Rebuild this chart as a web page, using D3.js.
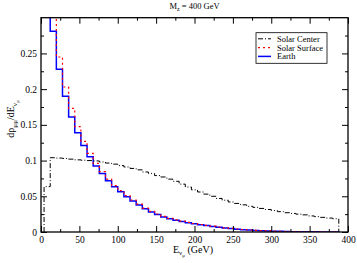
<!DOCTYPE html>
<html><head><meta charset="utf-8">
<script src="https://cdn.jsdelivr.net/npm/d3@7"></script>
<style>
body{margin:0;background:#fff;}
svg{display:block;font-family:"Liberation Serif","DejaVu Serif",serif;}
</style></head>
<body><svg id="c" width="357" height="263"></svg>
<script>
// ---- data ----
const binStart = d3.range(4, 388, 8); // lower edges of 8 GeV bins, last upper edge 388
const binWidth = 8;
const solarCenter = [0.0635,0.104,0.1035,0.103,0.102,0.101,0.1005,0.100,0.0995,0.098,0.0965,0.095,0.093,0.091,0.089,0.087,0.084,0.082,0.079,0.077,0.074,0.071,0.067,0.063,0.059,0.056,0.053,0.050,0.047,0.0445,0.042,0.040,0.038,0.036,0.0345,0.033,0.0315,0.030,0.0285,0.027,0.026,0.025,0.024,0.0225,0.0215,0.0205,0.0195,0.0185];
const solarSurface = [0.40,0.31,0.245,0.203,0.173,0.1475,0.127,0.110,0.096,0.0845,0.074,0.065,0.058,0.051,0.0448,0.039,0.0335,0.029,0.0252,0.0218,0.0192,0.0171,0.0153,0.0135,0.0119,0.0105,0.0093,0.0081,0.007,0.0059,0.005,0.0042,0.0035,0.0028,0.0023,0.0019,0.0015,0.0012,0.0009,0.0007,0.0006,0.0004,0.0003,0.0002,0.0002,0.0001,0.0001,0.0001];
const earth = [0.36,0.281,0.228,0.190,0.161,0.139,0.121,0.1055,0.0924,0.082,0.0719,0.0635,0.0565,0.0495,0.0434,0.0378,0.0325,0.028,0.0245,0.021,0.0185,0.0165,0.0148,0.013,0.0115,0.0102,0.009,0.0078,0.0067,0.0057,0.0048,0.004,0.0033,0.0027,0.0022,0.0018,0.0014,0.0011,0.0009,0.0007,0.0005,0.0004,0.0003,0.0002,0.0002,0.0001,0.0001,0.0001];
const xMajor = [0,50,100,150,200,250,300,350,400];
const xMinor = [25,75,125,175,225,275,325,375];
const yMajor = [0,0.05,0.1,0.15,0.2,0.25];
const yMajorLabels = ["0","0.05","0.1","0.15","0.2","0.25"];
const yMinor = [0.025,0.075,0.125,0.175,0.225,0.275];
const seriesNames = ["Solar Center","Solar Surface","Earth"];

// ---- layout ----
const svg = d3.select("#c");
const L=41, R=348, T=17.7, B=232;
const x = d3.scaleLinear().domain([0,400]).range([L,R]);
const y = d3.scaleLinear().domain([0,0.3]).range([B,T]);

svg.append("defs").append("clipPath").attr("id","clip")
  .append("rect").attr("x",L).attr("y",T).attr("width",R-L).attr("height",B-T);

function stepPts(vals, fromZero, toZero){
  const pts=[];
  vals.forEach((v,i)=>{
    const a=binStart[i], b=binStart[i]+binWidth;
    if(i===0 && fromZero) pts.push([a,0]);
    pts.push([a,v]); pts.push([b,v]);
  });
  if(toZero) pts.push([binStart[vals.length-1]+binWidth,0]);
  return pts;
}
const line = d3.line().x(d=>x(d[0])).y(d=>y(d[1]));
const g = svg.append("g").attr("clip-path","url(#clip)");

g.append("path").attr("d",line(stepPts(earth,false,true)))
  .attr("fill","none").attr("stroke","#0000ff").attr("stroke-width",1.5);
g.append("path").attr("d",line(stepPts(solarSurface,false,true)))
  .attr("fill","none").attr("stroke","#ff0000").attr("stroke-width",1.2)
  .attr("stroke-dasharray","2,3");
g.append("path").attr("d",line(stepPts(solarCenter,true,true)))
  .attr("fill","none").attr("stroke","#000").attr("stroke-width",1)
  .attr("stroke-dasharray","5,2,1,2");

// ---- axes ----
const axColor="#000";
function styleAxis(sel){
  sel.select(".domain").remove();
  sel.selectAll("line").attr("stroke",axColor).attr("stroke-width",1);
  sel.selectAll("text").attr("font-family","Liberation Serif, serif").attr("font-size",9.5).attr("fill","#000");
}
svg.append("g").attr("transform",`translate(0,${B})`)
  .call(d3.axisBottom(x).tickValues(xMajor).tickSize(-6).tickPadding(4).tickFormat(d3.format("d")))
  .call(styleAxis);
svg.append("g").attr("transform",`translate(0,${B})`)
  .call(d3.axisBottom(x).tickValues(xMinor).tickSize(-3).tickFormat(""))
  .call(styleAxis);
svg.append("g").attr("transform",`translate(0,${T})`)
  .call(d3.axisTop(x).tickValues(xMajor).tickSize(-6).tickFormat(""))
  .call(styleAxis);
svg.append("g").attr("transform",`translate(0,${T})`)
  .call(d3.axisTop(x).tickValues(xMinor).tickSize(-3).tickFormat(""))
  .call(styleAxis);
svg.append("g").attr("transform",`translate(${L},0)`)
  .call(d3.axisLeft(y).tickValues(yMajor).tickSize(-6).tickPadding(4).tickFormat((d,i)=>yMajorLabels[i]))
  .call(styleAxis);
svg.append("g").attr("transform",`translate(${L},0)`)
  .call(d3.axisLeft(y).tickValues(yMinor).tickSize(-3).tickFormat(""))
  .call(styleAxis);
svg.append("g").attr("transform",`translate(${R},0)`)
  .call(d3.axisRight(y).tickValues(yMajor).tickSize(-6).tickFormat(""))
  .call(styleAxis);
svg.append("g").attr("transform",`translate(${R},0)`)
  .call(d3.axisRight(y).tickValues(yMinor).tickSize(-3).tickFormat(""))
  .call(styleAxis);

svg.append("rect").attr("x",L).attr("y",T).attr("width",R-L).attr("height",B-T)
  .attr("fill","none").attr("stroke",axColor).attr("stroke-width",1.3);

// ---- title ----
const title = svg.append("text").attr("x",(L+R)/2).attr("y",9).attr("text-anchor","middle")
  .attr("font-size",8.5).attr("fill","#000");
title.append("tspan").text("M");
title.append("tspan").attr("font-size",6).attr("dy",2).text("z");
title.append("tspan").attr("dy",-2).text(" = 400 GeV");

// ---- x label ----
const xl = svg.append("text").attr("x",173).attr("y",252.5).attr("font-size",10).attr("fill","#000");
xl.append("tspan").text("E");
xl.append("tspan").attr("font-size",7).attr("dy",2.5).text("ν");
xl.append("tspan").attr("font-size",5).attr("dy",2).text("μ");
xl.append("tspan").attr("dy",-4.5).text(" (GeV)");

// ---- y label ----
const yl = svg.append("text").attr("transform","translate(14,119) rotate(-90)")
  .attr("text-anchor","middle").attr("font-size",10).attr("fill","#000");
yl.append("tspan").text("dρ");
yl.append("tspan").attr("font-size",7).attr("dy",2.5).text("μμ");
yl.append("tspan").attr("dy",-2.5).text("/dE");
yl.append("tspan").attr("font-size",7).attr("dy",2.5).text("ν");
yl.append("tspan").attr("font-size",5).attr("dy",2).text("μ");

// ---- legend ----
const lg = svg.append("g");
lg.append("rect").attr("x",256).attr("y",32.7).attr("width",71).attr("height",30.6)
  .attr("fill","#fff").attr("stroke","#000").attr("stroke-width",0.8);
const legStyles = [
  {c:"#000",w:1,da:"5,2,1,2"},
  {c:"#ff0000",w:1.2,da:"2,3"},
  {c:"#0000ff",w:1.5,da:null}
];
const legY=[38.8,47.6,56.4];
seriesNames.forEach((n,i)=>{
  const s=legStyles[i];
  const ln=lg.append("line").attr("x1",258).attr("x2",271).attr("y1",legY[i]).attr("y2",legY[i])
    .attr("stroke",s.c).attr("stroke-width",s.w);
  if(s.da) ln.attr("stroke-dasharray",s.da);
  lg.append("text").attr("x",277).attr("y",legY[i]+3).attr("font-size",8.5).attr("fill","#000").text(n);
});
</script></body></html>
